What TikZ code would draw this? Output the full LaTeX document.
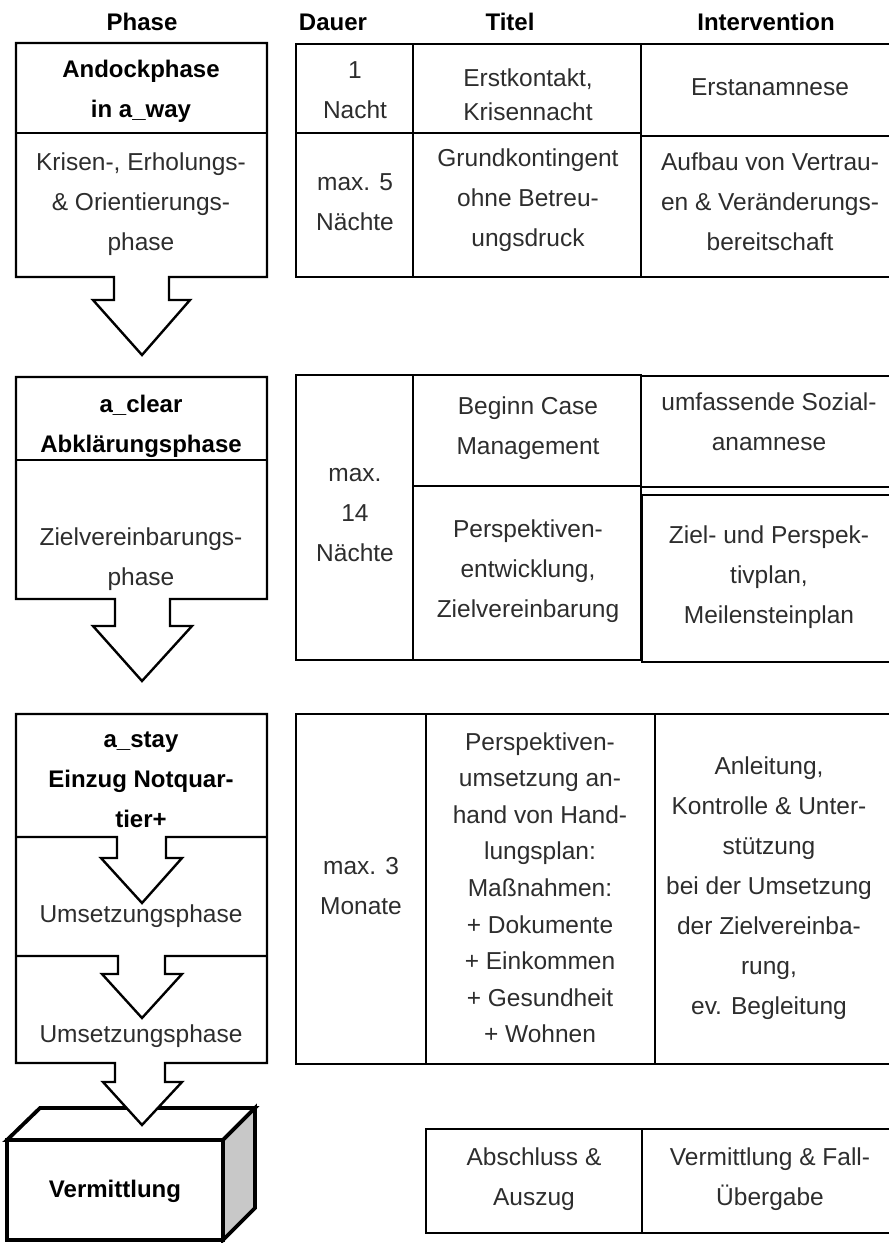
\documentclass[tikz,border=0pt]{standalone}
\usepackage{fontspec}
\setmainfont{Liberation Sans}
\definecolor{txt}{RGB}{45,45,45}
\definecolor{sidegray}{RGB}{200,200,200}
\tikzset{
  cell/.style={font=\fontsize{24.5}{40}\selectfont, text=txt, align=center, inner sep=0pt,
    execute at begin node=\strut, execute at end node=\strut},
  bcell/.style={font=\fontsize{24}{40}\selectfont\bfseries, text=black, align=center, inner sep=0pt,
    execute at begin node=\strut, execute at end node=\strut},
  phasebox/.style={draw=black, line width=2.4pt, fill=white, line join=miter},
  divider/.style={draw=black, line width=2.4pt, line join=miter},
  tbl/.style={draw=black, line width=1.5pt},
  cube/.style={draw=black, line width=3.8pt, line join=miter}
}
\begin{document}
\begin{tikzpicture}[x=1pt,y=-1pt]
\useasboundingbox (0,0) rectangle (889,1243);
\clip (0,0) rectangle (889,1243);

% ---------- headers
\node[bcell] (hPhase) at (142,22) {Phase};
\node[bcell] (hDauer) at (333,22) {Dauer};
\node[bcell] (hTitel) at (510,22) {Titel};
\node[bcell] (hInt)   at (766,22) {Intervention};

% ---------- phase box 1
\path[phasebox] (16,43) -- (267,43) -- (267,277) -- (169,277) -- (169,300) -- (190,300)
  -- (142,355) -- (93,300) -- (114,300) -- (114,277) -- (16,277) -- cycle;
\path[divider] (16,133) -- (267,133);

% ---------- phase box 2
\path[phasebox] (16,377) -- (267,377) -- (267,599) -- (170,599) -- (170,626) -- (192,626)
  -- (142,681) -- (93,626) -- (115,626) -- (115,599) -- (16,599) -- cycle;
\path[divider] (16,460) -- (267,460);

% ---------- Vermittlung cube
\path[cube, fill=white] (7,1140) -- (40,1108) -- (255,1108) -- (223,1140) -- cycle;
\path[cube, fill=sidegray] (223,1140) -- (255,1108) -- (255,1208) -- (223,1240) -- cycle;
\path[cube, fill=white] (7,1140) rectangle (223,1240);

% ---------- phase box 3
\path[phasebox] (16,714) -- (267,714) -- (267,1063) -- (165,1063) -- (165,1082) -- (182,1082)
  -- (142,1125) -- (103,1082) -- (115,1082) -- (115,1063) -- (16,1063) -- cycle;
\path[divider] (16,837) -- (117,837) -- (117,858) -- (101,858) -- (142,903) -- (182,858)
  -- (166,858) -- (166,837) -- (267,837);
\path[divider] (16,956) -- (118,956) -- (118,974) -- (102,974) -- (142,1018) -- (182,974)
  -- (165,974) -- (165,956) -- (267,956);

% ---------- table 1
\path[tbl] (296,44) rectangle (900,277);
\path[tbl] (413,44) -- (413,277);
\path[tbl] (641,44) -- (641,277);
\path[tbl] (296,133) -- (641,133);
\path[tbl] (641,136) -- (900,136);

% ---------- table 2
\path[tbl] (296,375) rectangle (641,660);
\path[tbl] (413,375) -- (413,660);
\path[tbl] (413,486) -- (641,486);
\path[tbl] (641,376) rectangle (900,487);
\path[tbl] (642,495) rectangle (900,662);

% ---------- table 3
\path[tbl] (296,714) rectangle (900,1064);
\path[tbl] (426,714) -- (426,1064);
\path[tbl] (655,714) -- (655,1064);

% ---------- table 4
\path[tbl] (426,1129) rectangle (900,1233);
\path[tbl] (642,1129) -- (642,1233);

% ---------- phase texts
\node[bcell] (p1a) at (141,95) {Andockphase\\in a\_way};
\node[cell]  (p1b) at (141,208) {Krisen-, Erholungs-\\\& Orientierungs-\\phase};
\node[bcell] (p2a) at (141,430) {a\_clear\\Abklärungsphase};
\node[cell]  (p2b) at (141,563) {Zielvereinbarungs-\\phase};
\node[bcell] (p3a) at (141,786) {a\_stay\\Einzug Notquar-\\tier+};
\node[cell]  (p3b) at (141,914) {Umsetzungsphase};
\node[cell]  (p3c) at (141,1034) {Umsetzungsphase};
\node[bcell] (verm) at (115,1189) {Vermittlung};

% ---------- table 1 texts
\node[cell] (d1) at (355,96) {1\\Nacht};
\node[cell, font=\fontsize{24.5}{34}\selectfont] (t1) at (528,100) {Erstkontakt,\\Krisennacht};
\node[cell] (i1) at (770,87) {Erstanamnese};
\node[cell] (d2) at (355,208) {max. 5\\Nächte};
\node[cell] (t2) at (528,204) {Grundkontingent\\ohne Betreu-\\ungsdruck};
\node[cell] (i2) at (770,208) {Aufbau von Vertrau-\\en \& Veränderungs-\\bereitschaft};

% ---------- table 2 texts
\node[cell] (d3) at (355,521) {max.\\14\\Nächte};
\node[cell] (t3) at (528,432) {Beginn Case\\Management};
\node[cell] (i3) at (769,428) {umfassende Sozial-\\anamnese};
\node[cell] (t4) at (528,575) {Perspektiven-\\entwicklung,\\Zielvereinbarung};
\node[cell] (i4) at (769,581) {Ziel- und Perspek-\\tivplan,\\Meilensteinplan};

% ---------- table 3 texts
\node[cell] (d5) at (361,892) {max. 3\\Monate};
\node[cell, font=\fontsize{24.5}{36.6}\selectfont] (t5) at (540,893)
  {Perspektiven-\\umsetzung an-\\hand von Hand-\\lungsplan:\\Maßnahmen:\\+ Dokumente\\+ Einkommen\\+ Gesundheit\\+ Wohnen};
\node[cell] (i5) at (769,892)
  {Anleitung,\\Kontrolle \& Unter-\\stützung\\bei der Umsetzung\\der Zielvereinba-\\rung,\\ev. Begleitung};

% ---------- table 4 texts
\node[cell] (t6) at (534,1183) {Abschluss \&\\Auszug};
\node[cell] (i6) at (770,1183) {Vermittlung \& Fall-\\Übergabe};
\end{tikzpicture}
\end{document}
